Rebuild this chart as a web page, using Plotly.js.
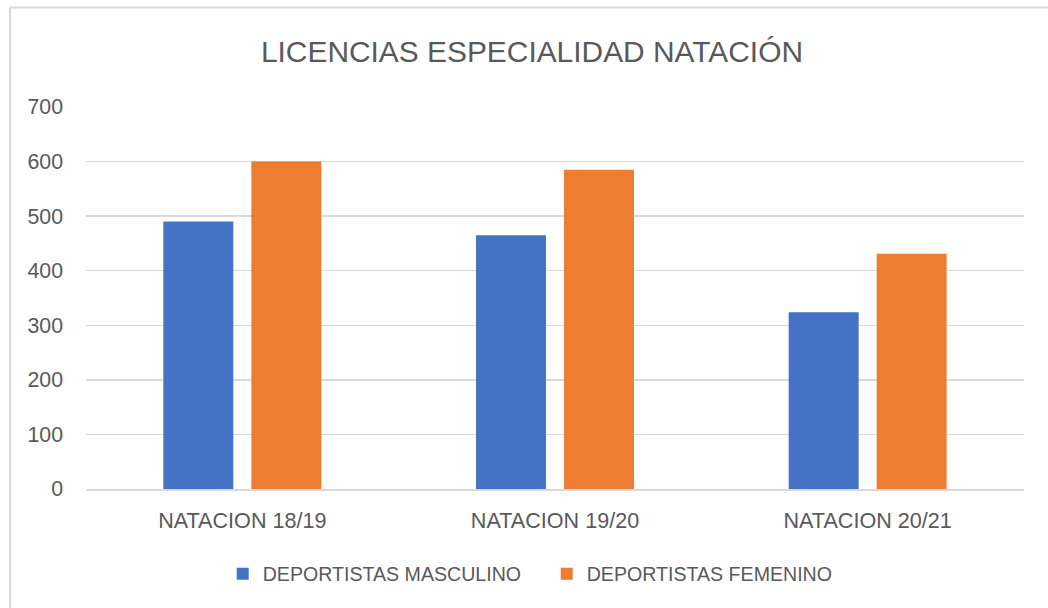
<!DOCTYPE html>
<html>
<head>
<meta charset="utf-8">
<script src="https://cdn.plot.ly/plotly-3.0.1.min.js"></script>
<style>
html,body{margin:0;padding:0;background:#fff;}
#chart{width:1048px;height:608px;}
</style>
</head>
<body>
<div id="chart"></div>
<script>
const categories = ["NATACION 18/19", "NATACION 19/20", "NATACION 20/21"];
const masculino = [490, 465, 324];
const femenino = [600, 585, 431];
const seriesNames = ["DEPORTISTAS MASCULINO", "DEPORTISTAS FEMENINO"];
const yTicks = [0, 100, 200, 300, 400, 500, 600, 700];

const FONT = "Liberation Sans, Arial, sans-serif";
const TXT = "#595959";

const traces = [
  {type: "bar", name: seriesNames[0], x: categories, y: masculino,
   marker: {color: "#4472C4"}, hoverinfo: "y"},
  {type: "bar", name: seriesNames[1], x: categories, y: femenino,
   marker: {color: "#ED7D31"}, hoverinfo: "y"}
];

const layout = {
  width: 1048, height: 608,
  margin: {l: 86, r: 24, t: 107, b: 119},
  paper_bgcolor: "#ffffff", plot_bgcolor: "#ffffff",
  font: {family: FONT, color: TXT, size: 21},
  title: {text: "LICENCIAS ESPECIALIDAD NATACIÓN", font: {family: FONT, size: 29.9, color: TXT},
          xref: "container", x: 0.5076, xanchor: "center", yref: "container", y: 0.9145, yanchor: "middle"},
  barmode: "group", bargap: 0.437, bargroupgap: 0.205,
  xaxis: {showgrid: false, showline: true, linecolor: "#d9d9d9", linewidth: 1.5,
          ticks: "", ticklabelstandoff: 12, tickfont: {size: 21.6, color: TXT}, fixedrange: true},
  yaxis: {range: [0, 700], tickvals: yTicks, showgrid: true, gridcolor: "#d9d9d9", gridwidth: 1.5,
          zeroline: false, showline: false, ticks: "", ticklabelstandoff: 22,
          tickfont: {size: 21.3, color: TXT}, fixedrange: true},
  showlegend: true,
  legend: {orientation: "h", xref: "container", yref: "container", x: 0.2125, xanchor: "left",
           y: 0.0559, yanchor: "middle", font: {size: 19.6, color: TXT}, traceorder: "normal",
           entrywidth: 279, entrywidthmode: "pixels"},
  shapes: [
    {type: "line", xref: "paper", yref: "paper", x0: -0.081, x1: 1.03, y0: 1.2605, y1: 1.2605,
     line: {color: "#d9d9d9", width: 2}},
    {type: "line", xref: "paper", yref: "paper", x0: -0.081, x1: -0.081, y0: 1.2605, y1: -0.32,
     line: {color: "#d9d9d9", width: 2}}
  ]
};

Plotly.newPlot("chart", traces, layout, {displayModeBar: false, staticPlot: true});
</script>
</body>
</html>
